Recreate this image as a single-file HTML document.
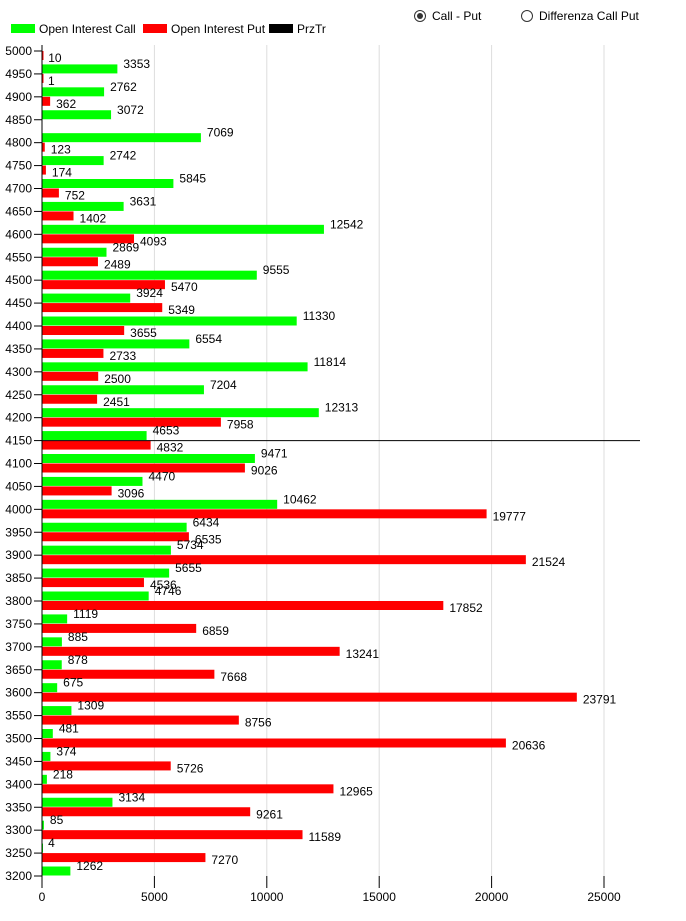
<!DOCTYPE html>
<html><head><meta charset="utf-8"><style>
body{margin:0;background:#fff;font-family:"Liberation Sans",sans-serif;}
svg text{font-family:"Liberation Sans",sans-serif;font-size:12px;fill:#000;}
</style></head><body>
<svg id="chart" width="686" height="916" xmlns="http://www.w3.org/2000/svg">
<g>
<circle cx="420" cy="16" r="5.5" fill="#fff" stroke="#333"/><circle cx="420" cy="16" r="3" fill="#333"/>
<text x="432" y="20">Call - Put</text></g>
<g>
<circle cx="527" cy="16" r="5.5" fill="#fff" stroke="#333"/>
<text x="539" y="20">Differenza Call Put</text></g>
<g>
<rect x="11" y="24" width="24" height="9" fill="#00ff00"/><text x="39" y="33" font-size="11">Open Interest Call</text>
<rect x="143" y="24" width="24" height="9" fill="#ff0000"/><text x="171" y="33" font-size="11">Open Interest Put</text>
<rect x="269" y="24" width="24" height="9" fill="#000"/><text x="297" y="33" font-size="11">PrzTr</text>
</g>
<g id="plot"></g>
</svg>
<script>
const strikes=[5000,4950,4900,4850,4800,4750,4700,4650,4600,4550,4500,4450,4400,4350,4300,4250,4200,4150,4100,4050,4000,3950,3900,3850,3800,3750,3700,3650,3600,3550,3500,3450,3400,3350,3300,3250,3200];
const callOI=[null,3353,2762,3072,7069,2742,5845,3631,12542,2869,9555,3924,11330,6554,11814,7204,12313,4653,9471,4470,10462,6434,5734,5655,4746,1119,885,878,675,1309,481,374,218,3134,85,4,1262];
const putOI=[10,1,362,null,123,174,752,1402,4093,2489,5470,5349,3655,2733,2500,2451,7958,4832,9026,3096,19777,6535,21524,4536,17852,6859,13241,7668,23791,8756,20636,5726,12965,9261,11589,7270,null];
const xTicks=[0,5000,10000,15000,20000,25000];
const przTr=4150;
const NS="http://www.w3.org/2000/svg";
const g=document.getElementById('plot');
const x0=42,pxPer=112.4/5000,yTop=51,step=(876-51)/36;
const X=v=>x0+v*pxPer;
const Y=s=>yTop+strikes.indexOf(s)*step;
function mk(t,a){const e=document.createElementNS(NS,t);for(const k in a)e.setAttribute(k,a[k]);g.appendChild(e);return e;}
xTicks.forEach(t=>{
 if(t>0){const l=mk('line',{x1:X(t),x2:X(t),y1:45,y2:876,stroke:'#ddd'});
 
 }
 const tk=mk('line',{x1:X(t),x2:X(t),y1:876,y2:888,stroke:'#000'});
 
 
 const tx=mk('text',{x:X(t),y:901,'text-anchor':'middle'});tx.textContent=t;
 
 
});
strikes.forEach((s,i)=>{
 const y=Y(s);
 const tk=mk('line',{x1:34,x2:42,y1:y,y2:y,stroke:'#000'});
 
 
 const lb=mk('text',{x:32,y:y+4,'text-anchor':'end'});lb.textContent=s;
 
 
 const c=callOI[i],p=putOI[i];
 if(c!==null){
  const r=mk('rect',{x:X(0),y:y-9.5,width:Math.max(1,X(c)-X(0)),height:9,fill:'#00ff00'});
  
  
  const t=mk('text',{x:X(c)+6,y:y-6});t.textContent=c;
  
  
 }
 if(p!==null){
  const r=mk('rect',{x:X(0),y:y,width:Math.max(1.5,X(p)-X(0)),height:9,fill:'#ff0000'});
  
  
  const t=mk('text',{x:X(p)+6,y:y+11});t.textContent=p;
  
  
 }
});
const ax=mk('line',{x1:42,x2:42,y1:45,y2:876,stroke:'#000'});


const pl=mk('line',{x1:42,x2:640,y1:Y(przTr),y2:Y(przTr),stroke:'#000'});


</script>
</body></html>
